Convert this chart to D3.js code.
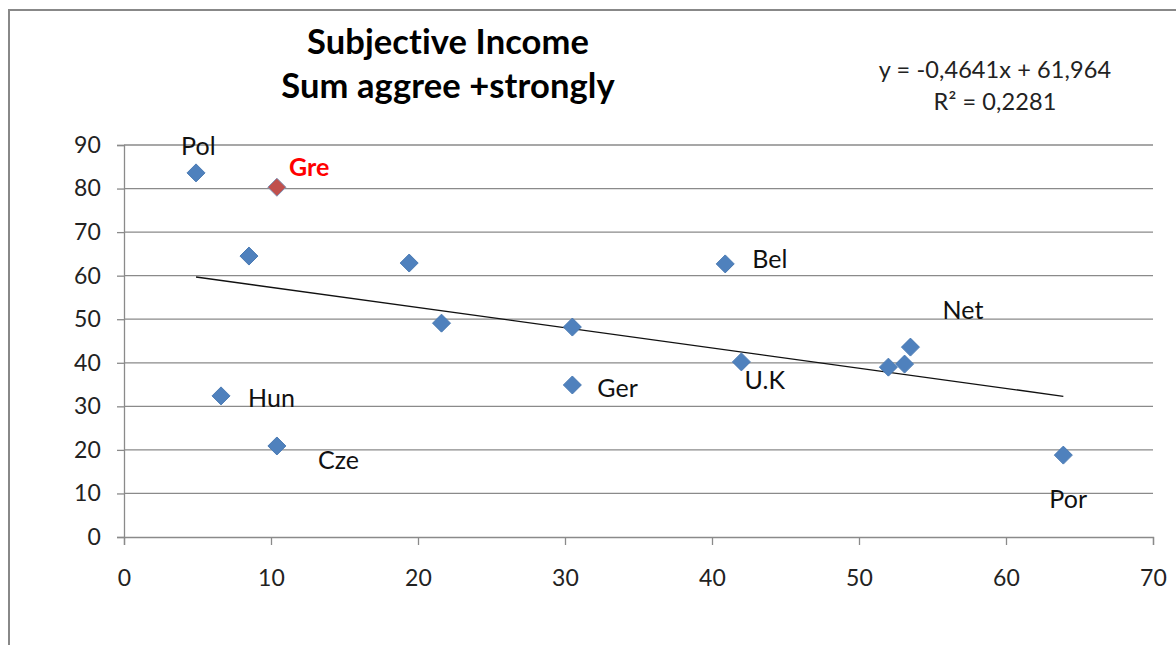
<!DOCTYPE html>
<html>
<head>
<meta charset="utf-8">
<script src="https://cdn.jsdelivr.net/npm/d3@7"></script>
<style>
  html, body { margin: 0; padding: 0; background: #fff; }
  svg { display: block; font-family: Lato, "Open Sans", sans-serif; font-variant-ligatures: none; font-feature-settings: "liga" 0, "dlig" 0; }
  svg text { letter-spacing: 0.1px; }
</style>
</head>
<body>
<svg id="chart" width="1176" height="645"></svg>
<script>
// Country labels (empty string = point without a label)
const countries = ["Pol", "Gre", "", "Hun", "Cze", "", "", "", "Ger", "Bel", "U.K", "", "", "Net", "Por"];
// x values
const xValues = [4.9, 10.4, 8.5, 6.6, 10.4, 19.4, 21.6, 30.5, 30.5, 40.9, 42.0, 52.0, 53.1, 53.5, 63.9];
// y values (sum agree + strongly)
const yValues = [83.6, 80.3, 64.5, 32.4, 20.9, 62.9, 49.1, 48.2, 34.9, 62.7, 40.2, 39.0, 39.7, 43.6, 18.8];
// highlighted country
const highlight = ["Gre"];

const xTicks = [0, 10, 20, 30, 40, 50, 60, 70];
const yTicks = [0, 10, 20, 30, 40, 50, 60, 70, 80, 90];

const titleLines = ["Subjective Income", "Sum aggree +strongly"];
const slope = -0.4641, intercept = 61.964;
const equationLines = ["y = -0,4641x + 61,964", "R² = 0,2281"];

// label placement relative to each marker (dx, dy of text start / baseline)
const labelOffsets = {
  "Pol": [-15, -18], "Gre": [12, -11], "Hun": [27, 11], "Cze": [41, 23],
  "Ger": [25, 12], "Bel": [27, 4], "U.K": [3, 27], "Net": [32, -28], "Por": [-14, 53]
};

const svg = d3.select("#chart");
const W = 1176, H = 645;

// outer frame
svg.append("rect")
  .attr("x", 9).attr("y", 10).attr("width", W + 20).attr("height", H + 20)
  .attr("fill", "#fff").attr("stroke", "#888").attr("stroke-width", 2);

const plot = { left: 124, right: 1153, top: 145, bottom: 537 };
const x = d3.scaleLinear().domain([0, 70]).range([plot.left, plot.right]);
const y = d3.scaleLinear().domain([0, 90]).range([plot.bottom, plot.top]);

const gridColor = "#8a8a8a";

// horizontal gridlines
svg.append("g").selectAll("line").data(yTicks.filter(d => d > 0)).join("line")
  .attr("x1", plot.left).attr("x2", plot.right)
  .attr("y1", d => y(d)).attr("y2", d => y(d))
  .attr("stroke", gridColor).attr("stroke-width", 1.3);

// y axis
const yAxis = svg.append("g").attr("transform", `translate(${plot.left},0)`)
  .call(d3.axisLeft(y).tickValues(yTicks).tickSize(7).tickPadding(16).tickFormat(d3.format("d")));
yAxis.select(".domain").attr("stroke", gridColor).attr("stroke-width", 1.3);
yAxis.selectAll(".tick line").attr("stroke", gridColor).attr("stroke-width", 1.3);
yAxis.selectAll(".tick text").attr("font-size", 23).attr("fill", "#222")
  .attr("font-family", "Lato");

// x axis
const xAxis = svg.append("g").attr("transform", `translate(0,${plot.bottom})`)
  .call(d3.axisBottom(x).tickValues(xTicks).tickSize(8).tickPadding(25).tickFormat(d3.format("d")));
xAxis.select(".domain").attr("stroke", gridColor).attr("stroke-width", 1.3);
xAxis.selectAll(".tick line").attr("stroke", gridColor).attr("stroke-width", 1.3);
xAxis.selectAll(".tick text").attr("font-size", 23).attr("fill", "#222")
  .attr("font-family", "Lato");

// linear trend line over the data range
const xMin = d3.min(xValues), xMax = d3.max(xValues);
svg.append("line")
  .attr("x1", x(xMin)).attr("y1", y(slope * xMin + intercept))
  .attr("x2", x(xMax)).attr("y2", y(slope * xMax + intercept))
  .attr("stroke", "#111").attr("stroke-width", 1.3);

// diamond markers
const points = xValues.map((v, i) => ({ x: v, y: yValues[i], name: countries[i] }));
const r = 9;
svg.append("g").selectAll("path").data(points).join("path")
  .attr("d", d => {
    const cx = x(d.x), cy = y(d.y);
    return `M${cx},${cy - r}L${cx + r},${cy}L${cx},${cy + r}L${cx - r},${cy}Z`;
  })
  .attr("fill", d => highlight.includes(d.name) ? "#C0504D" : "#4F81BD")
  .attr("stroke", d => highlight.includes(d.name) ? "#7d8fb3" : "#4a7ab3")
  .attr("stroke-width", 1);

// data labels
svg.append("g").selectAll("text").data(points.filter(d => d.name)).join("text")
  .attr("x", d => x(d.x) + labelOffsets[d.name][0])
  .attr("y", d => y(d.y) + labelOffsets[d.name][1])
  .attr("font-size", 25)
  .attr("font-weight", d => highlight.includes(d.name) ? "bold" : "normal")
  .attr("fill", d => highlight.includes(d.name) ? "#ff0000" : "#111")
  .text(d => d.name);

// title
svg.append("g").selectAll("text").data(titleLines).join("text")
  .attr("x", 448).attr("y", (d, i) => 54 + i * 44)
  .attr("text-anchor", "middle").attr("font-weight", "bold")
  .attr("font-size", 34.5).attr("fill", "#000")
  .text(d => d);

// regression equation
svg.append("g").selectAll("text").data(equationLines).join("text")
  .attr("x", 995).attr("y", (d, i) => 78 + i * 32)
  .attr("text-anchor", "middle").attr("font-size", 23.5).attr("fill", "#222")
  .text(d => d);
</script>
</body>
</html>
